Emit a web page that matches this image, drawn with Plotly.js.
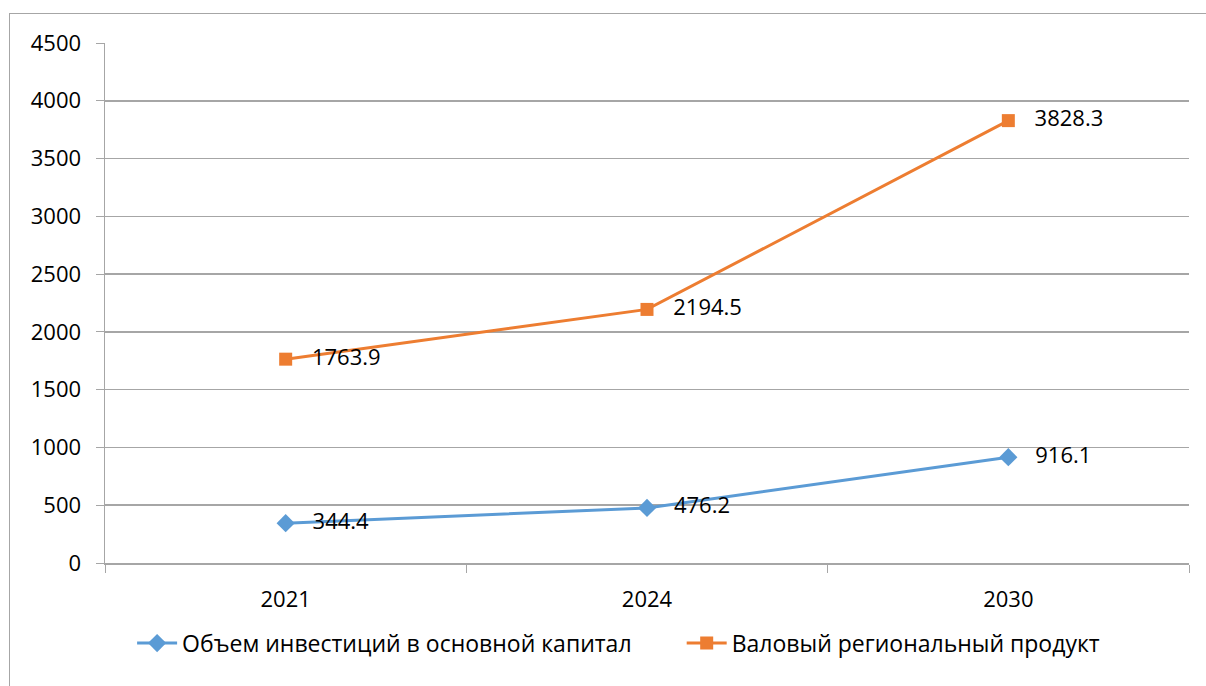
<!DOCTYPE html>
<html>
<head>
<meta charset="utf-8">
<script src="https://cdn.plot.ly/plotly-3.0.1.min.js"></script>
<style>
html,body{margin:0;padding:0;overflow:hidden;background:#fff;}
#wrap{position:relative;width:1206px;height:686px;}
#chart{position:absolute;left:0;top:0;width:1206px;height:686px;}
#frame{position:absolute;left:9px;top:13px;width:1400px;height:900px;border:1.5px solid #a6a6a6;pointer-events:none;}
</style>
</head>
<body>
<div id="wrap"><div id="chart"></div><div id="frame"></div></div>
<script>
const years = ["2021", "2024", "2030"];
const investName = "Объем инвестиций в основной капитал";
const investValues = [344.4, 476.2, 916.1];
const grpName = "Валовый региональный продукт";
const grpValues = [1763.9, 2194.5, 3828.3];
const yTicks = [0, 500, 1000, 1500, 2000, 2500, 3000, 3500, 4000, 4500];

const FONT = "Open Sans, Liberation Sans, sans-serif";
const FS = 22;
const lab = v => v.map(x => x.toFixed(1));

const traces = [
  {
    x: years, y: investValues, name: investName, type: "scatter", mode: "lines+markers+text",
    line: {color: "#5b9bd5", width: 3},
    marker: {symbol: "diamond", size: 14, color: "#5b9bd5"},
    text: lab(investValues), texttemplate: "\u00a0\u00a0\u00a0%{text}",
    textposition: "middle right", textfont: {family: FONT, size: FS, color: "#000"},
    cliponaxis: false, hoverinfo: "skip", legend: "legend"
  },
  {
    x: years, y: grpValues, name: grpName, type: "scatter", mode: "lines+markers+text",
    line: {color: "#ed7d31", width: 3},
    marker: {symbol: "square", size: 13, color: "#ed7d31"},
    text: lab(grpValues), texttemplate: "\u00a0\u00a0\u00a0%{text}",
    textposition: "middle right", textfont: {family: FONT, size: FS, color: "#000"},
    cliponaxis: false, hoverinfo: "skip", legend: "legend2"
  }
];

const legendBase = {orientation: "h", xanchor: "left", y: -0.154, yanchor: "middle",
  font: {family: FONT, size: 23, color: "#000"}, itemwidth: 40, bgcolor: "rgba(0,0,0,0)"};

const layout = {
  width: 1206, height: 686,
  margin: {l: 105, r: 17, t: 43, b: 123},
  paper_bgcolor: "#fff", plot_bgcolor: "#fff",
  font: {family: FONT, size: FS, color: "#000"},
  showlegend: true,
  legend: Object.assign({}, legendBase, {x: 0.025}),
  legend2: Object.assign({}, legendBase, {x: 0.532}),
  xaxis: {
    type: "category", range: [-0.5, 2.5], autorange: false,
    tickson: "boundaries", ticks: "outside", ticklen: 8, tickcolor: "#a6a6a6",
    showgrid: false, showline: true, linecolor: "#a6a6a6", linewidth: 1.5,
    ticklabelstandoff: 16, fixedrange: true, tickfont: {family: FONT, size: FS, color: "#000"}
  },
  yaxis: {
    range: [0, 4500], tickvals: yTicks, ticktext: yTicks.map(String),
    ticks: "outside", ticklen: 8, tickcolor: "#a6a6a6",
    showgrid: true, gridcolor: "#a6a6a6", gridwidth: 1.5,
    showline: true, linecolor: "#a6a6a6", linewidth: 1.5, zeroline: false,
    ticklabelstandoff: 10, fixedrange: true, tickfont: {family: FONT, size: FS, color: "#000"}
  }
};

Plotly.newPlot("chart", traces, layout, {displayModeBar: false, staticPlot: true});
</script>
</body>
</html>
